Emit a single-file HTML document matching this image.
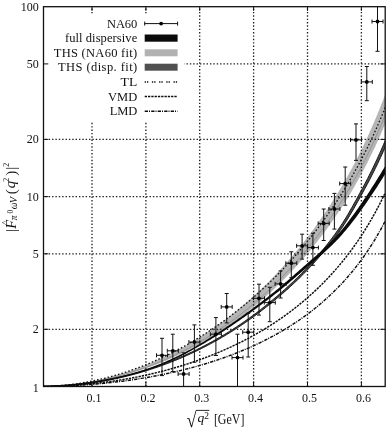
<!DOCTYPE html>
<html><head><meta charset="utf-8"><title>plot</title>
<style>
html,body{margin:0;padding:0;background:#fff;}
svg{display:block}
text{font-family:"Liberation Serif",serif;fill:#111;}
</style></head><body>
<svg width="386" height="428" viewBox="0 0 386 428">
<rect width="386" height="428" fill="#fff"/>
<defs><clipPath id="c"><rect x="43.5" y="6.7" width="341.7" height="379.8"/></clipPath></defs>

<g clip-path="url(#c)">
<path d="M42.42,386.47 L43.75,386.44 L45.09,386.41 L46.42,386.37 L47.75,386.33 L49.08,386.28 L50.41,386.22 L51.74,386.16 L53.08,386.09 L54.41,386.01 L55.74,385.93 L57.07,385.84 L58.40,385.75 L59.74,385.65 L61.07,385.54 L62.40,385.42 L63.73,385.30 L65.06,385.17 L66.39,385.04 L67.73,384.90 L69.06,384.75 L70.39,384.59 L71.72,384.43 L73.05,384.27 L74.39,384.09 L75.72,383.91 L77.05,383.73 L78.38,383.53 L79.71,383.33 L81.04,383.13 L82.38,382.91 L83.71,382.70 L85.04,382.47 L86.37,382.24 L87.70,382.00 L89.03,381.75 L90.37,381.50 L91.70,381.24 L93.03,380.98 L94.36,380.70 L95.69,380.42 L97.03,380.14 L98.36,379.85 L99.69,379.55 L101.02,379.24 L102.35,378.93 L103.68,378.61 L105.02,378.29 L106.35,377.96 L107.68,377.62 L109.01,377.27 L110.34,376.92 L111.68,376.56 L113.01,376.20 L114.34,375.83 L115.67,375.45 L117.00,375.06 L118.33,374.67 L119.67,374.27 L121.00,373.87 L122.33,373.45 L123.66,373.03 L124.99,372.61 L126.32,372.17 L127.66,371.74 L128.99,371.29 L130.32,370.84 L131.65,370.38 L132.98,369.91 L134.32,369.43 L135.65,368.95 L136.98,368.47 L138.31,367.97 L139.64,367.47 L140.97,366.96 L142.31,366.44 L143.64,365.92 L144.97,365.39 L146.30,364.86 L147.63,364.31 L148.97,363.76 L150.30,363.20 L151.63,362.64 L152.96,362.07 L154.29,361.49 L155.62,360.90 L156.96,360.31 L158.29,359.71 L159.62,359.10 L160.95,358.48 L162.28,357.86 L163.62,357.23 L164.95,356.59 L166.28,355.95 L167.61,355.30 L168.94,354.64 L170.27,353.97 L171.61,353.30 L172.94,352.62 L174.27,351.93 L175.60,351.23 L176.93,350.53 L178.26,349.82 L179.60,349.10 L180.93,348.37 L182.26,347.64 L183.59,346.90 L184.92,346.15 L186.26,345.39 L187.59,344.63 L188.92,343.85 L190.25,343.07 L191.58,342.29 L192.91,341.49 L194.25,340.68 L195.58,339.87 L196.91,339.05 L198.24,338.22 L199.57,337.39 L200.91,336.54 L202.24,335.69 L203.57,334.83 L204.90,333.96 L206.23,333.09 L207.56,332.20 L208.90,331.31 L210.23,330.40 L211.56,329.49 L212.89,328.58 L214.22,327.65 L215.55,326.71 L216.89,325.77 L218.22,324.81 L219.55,323.85 L220.88,322.88 L222.21,321.90 L223.55,320.91 L224.88,319.91 L226.21,318.91 L227.54,317.89 L228.87,316.87 L230.20,315.83 L231.54,314.79 L232.87,313.74 L234.20,312.68 L235.53,311.61 L236.86,310.53 L238.20,309.44 L239.53,308.34 L240.86,307.23 L242.19,306.11 L243.52,304.98 L244.85,303.84 L246.19,302.69 L247.52,301.53 L248.85,300.36 L250.18,299.18 L251.51,297.99 L252.84,296.79 L254.18,295.58 L255.51,294.36 L256.84,293.13 L258.17,291.89 L259.50,290.63 L260.84,289.37 L262.17,288.09 L263.50,286.81 L264.83,285.51 L266.16,284.20 L267.49,282.88 L268.83,281.55 L270.16,280.21 L271.49,278.85 L272.82,277.48 L274.15,276.10 L275.49,274.71 L276.82,273.31 L278.15,271.89 L279.48,270.46 L280.81,269.02 L282.14,267.57 L283.48,266.10 L284.81,264.62 L286.14,263.12 L287.47,261.62 L288.80,260.10 L290.13,258.56 L291.47,257.01 L292.80,255.45 L294.13,253.88 L295.46,252.28 L296.79,250.68 L298.13,249.06 L299.46,247.42 L300.79,245.77 L302.12,244.11 L303.45,242.42 L304.78,240.73 L306.12,239.01 L307.45,237.28 L308.78,235.54 L310.11,233.78 L311.44,232.00 L312.78,230.20 L314.11,228.38 L315.44,226.55 L316.77,224.70 L318.10,222.83 L319.43,220.95 L320.77,219.04 L322.10,217.11 L323.43,215.17 L324.76,213.20 L326.09,211.22 L327.42,209.21 L328.76,207.19 L330.09,205.14 L331.42,203.07 L332.75,200.98 L334.08,198.87 L335.42,196.73 L336.75,194.57 L338.08,192.39 L339.41,190.18 L340.74,187.95 L342.07,185.69 L343.41,183.40 L344.74,181.09 L346.07,178.76 L347.40,176.39 L348.73,174.00 L350.07,171.58 L351.40,169.13 L352.73,166.65 L354.06,164.14 L355.39,161.60 L356.72,159.02 L358.06,156.42 L359.39,153.77 L360.72,151.10 L362.05,148.39 L363.38,145.64 L364.71,142.86 L366.05,140.03 L367.38,137.17 L368.71,134.27 L370.04,131.32 L371.37,128.34 L372.71,125.30 L374.04,122.23 L375.37,119.10 L376.70,115.93 L378.03,112.71 L379.36,109.43 L380.70,106.11 L382.03,102.72 L383.36,99.28 L384.69,95.79 L386.02,92.23 L387.36,88.60 L387.36,118.43 L386.02,121.74 L384.69,124.99 L383.36,128.18 L382.03,131.31 L380.70,134.39 L379.36,137.42 L378.03,140.40 L376.70,143.33 L375.37,146.22 L374.04,149.06 L372.71,151.86 L371.37,154.61 L370.04,157.33 L368.71,160.01 L367.38,162.64 L366.05,165.24 L364.71,167.81 L363.38,170.34 L362.05,172.83 L360.72,175.29 L359.39,177.72 L358.06,180.12 L356.72,182.49 L355.39,184.82 L354.06,187.13 L352.73,189.41 L351.40,191.66 L350.07,193.88 L348.73,196.08 L347.40,198.25 L346.07,200.40 L344.74,202.52 L343.41,204.62 L342.07,206.69 L340.74,208.74 L339.41,210.77 L338.08,212.77 L336.75,214.76 L335.42,216.72 L334.08,218.66 L332.75,220.58 L331.42,222.48 L330.09,224.36 L328.76,226.22 L327.42,228.06 L326.09,229.88 L324.76,231.69 L323.43,233.47 L322.10,235.24 L320.77,236.99 L319.43,238.72 L318.10,240.44 L316.77,242.14 L315.44,243.82 L314.11,245.48 L312.78,247.13 L311.44,248.77 L310.11,250.39 L308.78,251.99 L307.45,253.58 L306.12,255.15 L304.78,256.71 L303.45,258.26 L302.12,259.79 L300.79,261.30 L299.46,262.80 L298.13,264.29 L296.79,265.77 L295.46,267.23 L294.13,268.67 L292.80,270.11 L291.47,271.53 L290.13,272.94 L288.80,274.33 L287.47,275.72 L286.14,277.09 L284.81,278.45 L283.48,279.79 L282.14,281.13 L280.81,282.45 L279.48,283.76 L278.15,285.06 L276.82,286.35 L275.49,287.62 L274.15,288.89 L272.82,290.14 L271.49,291.38 L270.16,292.62 L268.83,293.84 L267.49,295.05 L266.16,296.24 L264.83,297.43 L263.50,298.61 L262.17,299.78 L260.84,300.93 L259.50,302.08 L258.17,303.22 L256.84,304.34 L255.51,305.46 L254.18,306.57 L252.84,307.66 L251.51,308.75 L250.18,309.83 L248.85,310.89 L247.52,311.95 L246.19,313.00 L244.85,314.04 L243.52,315.07 L242.19,316.08 L240.86,317.10 L239.53,318.10 L238.20,319.09 L236.86,320.07 L235.53,321.05 L234.20,322.01 L232.87,322.97 L231.54,323.91 L230.20,324.85 L228.87,325.78 L227.54,326.70 L226.21,327.62 L224.88,328.52 L223.55,329.41 L222.21,330.30 L220.88,331.18 L219.55,332.05 L218.22,332.91 L216.89,333.77 L215.55,334.61 L214.22,335.45 L212.89,336.28 L211.56,337.10 L210.23,337.91 L208.90,338.71 L207.56,339.51 L206.23,340.30 L204.90,341.08 L203.57,341.85 L202.24,342.62 L200.91,343.38 L199.57,344.13 L198.24,344.87 L196.91,345.60 L195.58,346.33 L194.25,347.05 L192.91,347.76 L191.58,348.46 L190.25,349.16 L188.92,349.85 L187.59,350.53 L186.26,351.21 L184.92,351.87 L183.59,352.53 L182.26,353.18 L180.93,353.83 L179.60,354.47 L178.26,355.10 L176.93,355.72 L175.60,356.34 L174.27,356.95 L172.94,357.55 L171.61,358.15 L170.27,358.74 L168.94,359.32 L167.61,359.89 L166.28,360.46 L164.95,361.02 L163.62,361.58 L162.28,362.13 L160.95,362.67 L159.62,363.20 L158.29,363.73 L156.96,364.25 L155.62,364.76 L154.29,365.27 L152.96,365.77 L151.63,366.27 L150.30,366.76 L148.97,367.24 L147.63,367.71 L146.30,368.18 L144.97,368.64 L143.64,369.10 L142.31,369.55 L140.97,369.99 L139.64,370.43 L138.31,370.86 L136.98,371.28 L135.65,371.70 L134.32,372.11 L132.98,372.52 L131.65,372.92 L130.32,373.31 L128.99,373.70 L127.66,374.08 L126.32,374.45 L124.99,374.82 L123.66,375.18 L122.33,375.54 L121.00,375.89 L119.67,376.23 L118.33,376.57 L117.00,376.91 L115.67,377.23 L114.34,377.55 L113.01,377.87 L111.68,378.18 L110.34,378.48 L109.01,378.78 L107.68,379.07 L106.35,379.35 L105.02,379.63 L103.68,379.91 L102.35,380.18 L101.02,380.44 L99.69,380.69 L98.36,380.95 L97.03,381.19 L95.69,381.43 L94.36,381.66 L93.03,381.89 L91.70,382.11 L90.37,382.33 L89.03,382.54 L87.70,382.75 L86.37,382.95 L85.04,383.14 L83.71,383.33 L82.38,383.52 L81.04,383.69 L79.71,383.87 L78.38,384.03 L77.05,384.19 L75.72,384.35 L74.39,384.50 L73.05,384.64 L71.72,384.78 L70.39,384.92 L69.06,385.05 L67.73,385.17 L66.39,385.29 L65.06,385.40 L63.73,385.50 L62.40,385.60 L61.07,385.70 L59.74,385.79 L58.40,385.88 L57.07,385.95 L55.74,386.03 L54.41,386.10 L53.08,386.16 L51.74,386.22 L50.41,386.27 L49.08,386.32 L47.75,386.36 L46.42,386.40 L45.09,386.43 L43.75,386.45 L42.42,386.47Z" fill="#b5b5b5"/>
<path d="M102.76,379.72 L104.19,379.41 L105.62,379.10 L107.05,378.78 L108.48,378.45 L109.91,378.12 L111.34,377.77 L112.77,377.43 L114.20,377.07 L115.63,376.71 L117.06,376.34 L118.49,375.96 L119.92,375.58 L121.35,375.19 L122.78,374.79 L124.21,374.38 L125.64,373.97 L127.07,373.55 L128.50,373.12 L129.93,372.69 L131.36,372.25 L132.79,371.80 L134.22,371.34 L135.65,370.88 L137.08,370.40 L138.51,369.93 L139.94,369.44 L141.37,368.94 L142.80,368.44 L144.23,367.93 L145.66,367.42 L147.09,366.89 L148.52,366.36 L149.95,365.82 L151.38,365.27 L152.81,364.72 L154.24,364.16 L155.67,363.59 L157.10,363.01 L158.53,362.42 L159.96,361.83 L161.39,361.23 L162.82,360.62 L164.25,360.00 L165.68,359.37 L167.11,358.74 L168.54,358.10 L169.97,357.45 L171.40,356.79 L172.83,356.12 L174.26,355.45 L175.69,354.76 L177.12,354.07 L178.55,353.37 L179.98,352.67 L181.41,351.95 L182.84,351.22 L184.27,350.49 L185.70,349.75 L187.13,349.00 L188.56,348.24 L189.99,347.47 L191.43,346.70 L192.86,345.91 L194.29,345.12 L195.72,344.31 L197.15,343.50 L198.58,342.68 L200.01,341.85 L201.44,341.01 L202.87,340.17 L204.30,339.31 L205.73,338.44 L207.16,337.57 L208.59,336.68 L210.02,335.79 L211.45,334.89 L212.88,333.97 L214.31,333.05 L215.74,332.12 L217.17,331.18 L218.60,330.23 L220.03,329.27 L221.46,328.30 L222.89,327.32 L224.32,326.33 L225.75,325.33 L227.18,324.32 L228.61,323.30 L230.04,322.27 L231.47,321.23 L232.90,320.18 L234.33,319.11 L235.76,318.04 L237.19,316.96 L238.62,315.87 L240.05,314.76 L241.48,313.65 L242.91,312.52 L244.34,311.39 L245.77,310.24 L247.20,309.08 L248.63,307.91 L250.06,306.73 L251.49,305.54 L252.92,304.34 L254.35,303.12 L255.78,301.89 L257.21,300.66 L258.64,299.41 L260.07,298.14 L261.50,296.87 L262.93,295.58 L264.36,294.28 L265.79,292.97 L267.22,291.65 L268.65,290.31 L270.08,288.96 L271.51,287.60 L272.94,286.23 L274.37,284.84 L275.80,283.44 L277.23,282.02 L278.66,280.59 L280.09,279.15 L281.52,277.69 L282.95,276.22 L284.38,274.74 L285.81,273.24 L287.24,271.73 L288.68,270.20 L290.11,268.66 L291.54,267.10 L292.97,265.53 L294.40,263.94 L295.83,262.33 L297.26,260.71 L298.69,259.08 L300.12,257.43 L301.55,255.76 L302.98,254.07 L304.41,252.37 L305.84,250.65 L307.27,248.91 L308.70,247.16 L310.13,245.38 L311.56,243.59 L312.99,241.78 L314.42,239.96 L315.85,238.11 L317.28,236.24 L318.71,234.35 L320.14,232.45 L321.57,230.52 L323.00,228.57 L324.43,226.60 L325.86,224.61 L327.29,222.60 L328.72,220.56 L330.15,218.50 L331.58,216.42 L333.01,214.32 L334.44,212.19 L335.87,210.03 L337.30,207.86 L338.73,205.65 L340.16,203.42 L341.59,201.16 L343.02,198.87 L344.45,196.56 L345.88,194.22 L347.31,191.85 L348.74,189.44 L350.17,187.01 L351.60,184.55 L353.03,182.05 L354.46,179.52 L355.89,176.96 L357.32,174.36 L358.75,171.72 L360.18,169.05 L361.61,166.34 L363.04,163.59 L364.47,160.80 L365.90,157.97 L367.33,155.09 L368.76,152.17 L370.19,149.21 L371.62,146.20 L373.05,143.14 L374.48,140.03 L375.91,136.87 L377.34,133.66 L378.77,130.39 L380.20,127.06 L381.63,123.68 L383.06,120.23 L384.49,116.71 L385.93,113.13 L387.36,109.49" fill="none" stroke="#858585" stroke-width="0.7"/>
<path d="M42.43,386.87 L43.76,386.86 L45.09,386.83 L46.43,386.81 L47.76,386.77 L49.09,386.74 L50.43,386.70 L51.76,386.65 L53.09,386.60 L54.43,386.54 L55.76,386.48 L57.09,386.42 L58.43,386.35 L59.76,386.27 L61.09,386.19 L62.43,386.11 L63.76,386.02 L65.09,385.92 L66.43,385.82 L67.76,385.72 L69.09,385.61 L70.43,385.50 L71.76,385.38 L73.09,385.25 L74.43,385.13 L75.76,384.99 L77.09,384.86 L78.42,384.71 L79.76,384.56 L81.09,384.41 L82.42,384.25 L83.76,384.09 L85.09,383.93 L86.43,383.75 L87.76,383.58 L89.09,383.39 L90.43,383.21 L91.76,383.01 L93.09,382.82 L94.43,382.62 L95.76,382.41 L97.09,382.20 L98.43,381.98 L99.76,381.76 L101.09,381.53 L102.43,381.30 L103.76,381.06 L105.09,380.82 L106.43,380.57 L107.76,380.32 L109.09,380.06 L110.43,379.80 L111.76,379.53 L113.09,379.25 L114.43,378.98 L115.76,378.69 L117.10,378.40 L118.43,378.11 L119.76,377.81 L121.10,377.50 L122.43,377.19 L123.76,376.88 L125.10,376.56 L126.43,376.23 L127.77,375.90 L129.10,375.56 L130.43,375.22 L131.77,374.87 L133.10,374.52 L134.43,374.16 L135.77,373.80 L137.10,373.43 L138.44,373.05 L139.77,372.67 L141.10,372.28 L142.44,371.89 L143.77,371.49 L145.11,371.09 L146.44,370.68 L147.77,370.27 L149.11,369.85 L150.44,369.42 L151.78,368.99 L153.11,368.55 L154.44,368.11 L155.78,367.66 L157.11,367.20 L158.45,366.74 L159.78,366.27 L161.12,365.80 L162.45,365.32 L163.79,364.83 L165.12,364.34 L166.45,363.85 L167.79,363.34 L169.12,362.83 L170.46,362.32 L171.79,361.79 L173.13,361.27 L174.46,360.73 L175.80,360.19 L177.13,359.64 L178.47,359.09 L179.80,358.53 L181.13,357.96 L182.47,357.39 L183.80,356.81 L185.14,356.23 L186.47,355.63 L187.81,355.04 L189.14,354.43 L190.48,353.82 L191.81,353.20 L193.15,352.57 L194.48,351.94 L195.82,351.30 L197.15,350.66 L198.49,350.00 L199.82,349.34 L201.16,348.68 L202.49,348.00 L203.83,347.32 L205.16,346.64 L206.50,345.94 L207.84,345.24 L209.17,344.53 L210.51,343.82 L211.84,343.10 L213.18,342.37 L214.51,341.63 L215.85,340.89 L217.18,340.14 L218.52,339.38 L219.86,338.62 L221.19,337.84 L222.53,337.06 L223.86,336.28 L225.20,335.48 L226.53,334.68 L227.87,333.87 L229.21,333.05 L230.54,332.22 L231.88,331.39 L233.21,330.55 L234.55,329.70 L235.89,328.84 L237.22,327.97 L238.56,327.10 L239.89,326.22 L241.23,325.32 L242.57,324.42 L243.90,323.52 L245.24,322.60 L246.58,321.68 L247.91,320.74 L249.25,319.80 L250.59,318.85 L251.92,317.89 L253.26,316.92 L254.60,315.94 L255.93,314.95 L257.27,313.96 L258.61,312.95 L259.94,311.93 L261.28,310.91 L262.62,309.87 L263.96,308.83 L265.29,307.77 L266.63,306.71 L267.96,305.65 L269.30,304.58 L270.64,303.50 L271.97,302.41 L273.31,301.32 L274.65,300.22 L275.98,299.11 L277.32,297.99 L278.66,296.86 L280.00,295.73 L281.33,294.59 L282.67,293.43 L284.01,292.27 L285.35,291.09 L286.68,289.91 L288.02,288.71 L289.36,287.50 L290.70,286.28 L292.04,285.05 L293.37,283.81 L294.71,282.55 L296.05,281.28 L297.39,280.00 L298.73,278.70 L300.07,277.39 L301.41,276.06 L302.75,274.72 L304.08,273.36 L305.42,271.98 L306.76,270.59 L308.10,269.18 L309.44,267.76 L310.78,266.33 L312.12,264.88 L313.46,263.42 L314.80,261.95 L316.13,260.46 L317.47,258.95 L318.81,257.43 L320.15,255.89 L321.49,254.33 L322.83,252.76 L324.17,251.16 L325.51,249.55 L326.85,247.91 L328.19,246.26 L329.53,244.58 L330.87,242.88 L332.21,241.16 L333.55,239.41 L334.90,237.64 L336.24,235.84 L337.58,234.01 L338.92,232.16 L340.26,230.28 L341.60,228.36 L342.95,226.37 L344.29,224.32 L345.64,222.22 L346.98,220.07 L348.32,217.88 L349.66,215.64 L351.01,213.37 L352.35,211.07 L353.69,208.74 L355.03,206.38 L356.36,204.01 L357.70,201.62 L359.04,199.22 L360.38,196.82 L361.72,194.42 L363.06,192.01 L364.40,189.57 L365.74,187.09 L367.08,184.58 L368.42,182.04 L369.76,179.47 L371.10,176.86 L372.44,174.21 L373.78,171.54 L375.12,168.82 L376.47,166.07 L377.81,163.29 L379.15,160.46 L380.49,157.59 L381.83,154.67 L383.17,151.69 L384.51,148.67 L385.86,145.58 L387.20,142.44 L388.54,139.25 L386.17,138.26 L384.85,141.45 L383.53,144.59 L382.20,147.66 L380.88,150.68 L379.56,153.64 L378.24,156.55 L376.92,159.42 L375.60,162.24 L374.27,165.02 L372.95,167.76 L371.63,170.47 L370.30,173.14 L368.98,175.78 L367.66,178.39 L366.34,180.96 L365.01,183.49 L363.69,186.00 L362.37,188.46 L361.05,190.90 L359.72,193.31 L358.40,195.72 L357.07,198.13 L355.74,200.53 L354.42,202.92 L353.10,205.29 L351.77,207.65 L350.45,209.97 L349.12,212.27 L347.80,214.54 L346.48,216.77 L345.16,218.95 L343.84,221.09 L342.52,223.18 L341.20,225.21 L339.88,227.18 L338.56,229.09 L337.24,230.96 L335.92,232.81 L334.59,234.63 L333.27,236.42 L331.95,238.19 L330.63,239.94 L329.30,241.66 L327.98,243.36 L326.66,245.03 L325.33,246.68 L324.01,248.32 L322.69,249.93 L321.36,251.52 L320.04,253.10 L318.72,254.65 L317.39,256.19 L316.07,257.71 L314.74,259.22 L313.42,260.71 L312.09,262.18 L310.77,263.65 L309.44,265.09 L308.12,266.53 L306.79,267.95 L305.47,269.36 L304.15,270.75 L302.82,272.13 L301.50,273.48 L300.17,274.83 L298.85,276.16 L297.52,277.47 L296.20,278.77 L294.87,280.05 L293.55,281.33 L292.22,282.58 L290.90,283.83 L289.57,285.06 L288.25,286.28 L286.92,287.49 L285.60,288.69 L284.27,289.88 L282.94,291.06 L281.62,292.22 L280.29,293.38 L278.97,294.53 L277.64,295.67 L276.31,296.80 L274.99,297.92 L273.66,299.03 L272.33,300.13 L271.01,301.23 L269.68,302.32 L268.35,303.40 L267.02,304.48 L265.70,305.55 L264.37,306.61 L263.04,307.67 L261.72,308.72 L260.39,309.76 L259.06,310.79 L257.74,311.80 L256.41,312.81 L255.08,313.81 L253.76,314.80 L252.43,315.78 L251.10,316.76 L249.78,317.72 L248.45,318.67 L247.12,319.62 L245.79,320.56 L244.47,321.48 L243.14,322.40 L241.81,323.32 L240.49,324.22 L239.16,325.11 L237.83,326.00 L236.50,326.88 L235.18,327.74 L233.85,328.61 L232.52,329.46 L231.19,330.30 L229.87,331.14 L228.54,331.97 L227.21,332.79 L225.88,333.61 L224.56,334.41 L223.23,335.21 L221.90,336.00 L220.57,336.79 L219.25,337.56 L217.92,338.33 L216.59,339.09 L215.26,339.85 L213.93,340.59 L212.61,341.33 L211.28,342.06 L209.95,342.79 L208.62,343.51 L207.29,344.22 L205.96,344.92 L204.64,345.62 L203.31,346.31 L201.98,346.99 L200.65,347.67 L199.32,348.34 L197.99,349.00 L196.67,349.66 L195.34,350.31 L194.01,350.95 L192.68,351.58 L191.35,352.21 L190.02,352.84 L188.69,353.45 L187.37,354.06 L186.04,354.66 L184.71,355.26 L183.38,355.84 L182.05,356.43 L180.72,357.00 L179.39,357.57 L178.06,358.13 L176.74,358.69 L175.41,359.24 L174.08,359.78 L172.75,360.32 L171.42,360.85 L170.09,361.38 L168.76,361.90 L167.43,362.41 L166.10,362.91 L164.77,363.41 L163.44,363.91 L162.12,364.40 L160.79,364.88 L159.46,365.35 L158.13,365.82 L156.80,366.29 L155.47,366.75 L154.14,367.20 L152.81,367.64 L151.48,368.09 L150.15,368.52 L148.82,368.95 L147.49,369.37 L146.16,369.79 L144.83,370.20 L143.50,370.61 L142.17,371.01 L140.85,371.40 L139.52,371.79 L138.19,372.17 L136.86,372.55 L135.53,372.92 L134.20,373.29 L132.87,373.65 L131.54,374.00 L130.21,374.35 L128.88,374.70 L127.55,375.04 L126.22,375.37 L124.89,375.70 L123.56,376.02 L122.23,376.34 L120.90,376.65 L119.57,376.96 L118.24,377.26 L116.91,377.56 L115.58,377.85 L114.25,378.13 L112.92,378.41 L111.59,378.69 L110.26,378.96 L108.93,379.22 L107.60,379.48 L106.27,379.74 L104.94,379.98 L103.61,380.23 L102.28,380.47 L100.95,380.70 L99.62,380.93 L98.29,381.15 L96.96,381.37 L95.63,381.58 L94.30,381.79 L92.97,382.00 L91.64,382.19 L90.31,382.39 L88.98,382.58 L87.65,382.76 L86.32,382.94 L84.99,383.11 L83.66,383.28 L82.33,383.44 L81.00,383.60 L79.67,383.75 L78.34,383.90 L77.01,384.05 L75.68,384.18 L74.35,384.32 L73.02,384.45 L71.68,384.57 L70.35,384.69 L69.02,384.80 L67.69,384.91 L66.36,385.02 L65.03,385.12 L63.70,385.21 L62.37,385.30 L61.04,385.39 L59.71,385.47 L58.38,385.54 L57.05,385.61 L55.72,385.68 L54.39,385.74 L53.06,385.80 L51.73,385.85 L50.40,385.90 L49.07,385.94 L47.74,385.97 L46.41,386.01 L45.08,386.03 L43.75,386.06 L42.42,386.07Z" fill="#4a4a4a" stroke="#161616" stroke-width="1.0" stroke-linejoin="round"/>
<path d="M42.43,387.12 L43.76,387.11 L45.10,387.08 L46.43,387.05 L47.77,387.02 L49.10,386.98 L50.44,386.94 L51.77,386.89 L53.10,386.84 L54.44,386.78 L55.77,386.72 L57.11,386.65 L58.44,386.58 L59.77,386.50 L61.11,386.42 L62.44,386.34 L63.78,386.24 L65.11,386.15 L66.45,386.04 L67.78,385.94 L69.11,385.83 L70.45,385.71 L71.78,385.59 L73.12,385.46 L74.45,385.33 L75.79,385.19 L77.12,385.05 L78.45,384.91 L79.79,384.75 L81.12,384.60 L82.46,384.44 L83.79,384.27 L85.12,384.10 L86.46,383.92 L87.79,383.74 L89.13,383.56 L90.46,383.37 L91.80,383.17 L93.13,382.97 L94.46,382.77 L95.80,382.56 L97.13,382.34 L98.47,382.12 L99.80,381.90 L101.14,381.67 L102.47,381.43 L103.81,381.19 L105.14,380.94 L106.47,380.69 L107.81,380.44 L109.14,380.18 L110.48,379.91 L111.81,379.64 L113.15,379.36 L114.48,379.08 L115.82,378.79 L117.15,378.50 L118.49,378.20 L119.82,377.90 L121.16,377.59 L122.49,377.27 L123.83,376.95 L125.16,376.63 L126.50,376.29 L127.83,375.95 L129.17,375.61 L130.50,375.25 L131.84,374.90 L133.17,374.53 L134.51,374.16 L135.84,373.78 L137.18,373.39 L138.52,373.00 L139.85,372.60 L141.19,372.19 L142.52,371.78 L143.86,371.35 L145.20,370.92 L146.53,370.48 L147.87,370.04 L149.21,369.58 L150.54,369.12 L151.88,368.64 L153.21,368.16 L154.55,367.67 L155.89,367.17 L157.23,366.66 L158.56,366.15 L159.90,365.62 L161.24,365.09 L162.57,364.54 L163.91,363.99 L165.25,363.43 L166.58,362.86 L167.92,362.28 L169.26,361.69 L170.59,361.09 L171.93,360.48 L173.27,359.87 L174.61,359.25 L175.94,358.61 L177.28,357.97 L178.62,357.32 L179.95,356.66 L181.29,355.99 L182.63,355.32 L183.97,354.63 L185.30,353.94 L186.64,353.24 L187.98,352.53 L189.31,351.81 L190.65,351.09 L191.99,350.35 L193.32,349.61 L194.66,348.87 L196.00,348.11 L197.33,347.35 L198.67,346.58 L200.01,345.81 L201.34,345.03 L202.68,344.24 L204.02,343.45 L205.35,342.65 L206.69,341.85 L208.03,341.04 L209.36,340.22 L210.70,339.40 L212.04,338.57 L213.37,337.74 L214.71,336.90 L216.05,336.06 L217.38,335.21 L218.72,334.35 L220.06,333.49 L221.40,332.62 L222.73,331.75 L224.07,330.88 L225.41,330.00 L226.74,329.11 L228.08,328.22 L229.42,327.33 L230.75,326.43 L232.09,325.52 L233.43,324.61 L234.76,323.70 L236.10,322.78 L237.44,321.86 L238.78,320.93 L240.11,320.00 L241.45,319.06 L242.79,318.12 L244.12,317.18 L245.46,316.23 L246.80,315.28 L248.13,314.32 L249.47,313.36 L250.81,312.40 L252.15,311.43 L253.48,310.46 L254.82,309.49 L256.16,308.51 L257.50,307.53 L258.83,306.54 L260.17,305.55 L261.51,304.56 L262.85,303.56 L264.19,302.55 L265.52,301.54 L266.86,300.53 L268.20,299.51 L269.54,298.48 L270.88,297.45 L272.22,296.42 L273.56,295.37 L274.90,294.32 L276.24,293.26 L277.58,292.20 L278.92,291.13 L280.26,290.04 L281.60,288.96 L282.94,287.86 L284.28,286.75 L285.62,285.64 L286.96,284.52 L288.30,283.39 L289.64,282.26 L290.98,281.12 L292.32,279.98 L293.66,278.83 L295.00,277.68 L296.33,276.53 L297.67,275.37 L299.01,274.21 L300.35,273.05 L301.69,271.89 L303.02,270.74 L304.36,269.58 L305.70,268.42 L307.03,267.27 L308.37,266.12 L309.71,264.98 L311.04,263.83 L312.38,262.69 L313.72,261.55 L315.06,260.41 L316.40,259.27 L317.74,258.12 L319.08,256.96 L320.42,255.80 L321.76,254.63 L323.11,253.45 L324.45,252.25 L325.80,251.04 L327.15,249.82 L328.49,248.57 L329.84,247.31 L331.19,246.02 L332.54,244.70 L333.89,243.36 L335.24,241.99 L336.60,240.59 L337.95,239.16 L339.30,237.69 L340.65,236.20 L342.00,234.68 L343.35,233.12 L344.70,231.54 L346.05,229.93 L347.40,228.30 L348.75,226.63 L350.10,224.94 L351.45,223.23 L352.80,221.49 L354.14,219.73 L355.49,217.94 L356.84,216.13 L358.19,214.31 L359.53,212.46 L360.88,210.59 L362.23,208.70 L363.57,206.80 L364.92,204.88 L366.27,202.95 L367.61,200.99 L368.96,199.03 L370.30,197.04 L371.65,195.04 L373.00,193.02 L374.34,190.99 L375.69,188.94 L377.04,186.88 L378.38,184.80 L379.73,182.70 L381.08,180.59 L382.42,178.46 L383.77,176.32 L385.12,174.17 L386.46,172.00 L387.81,169.81 L389.15,167.62 L385.56,165.44 L384.24,167.64 L382.92,169.83 L381.60,172.01 L380.29,174.16 L378.97,176.31 L377.65,178.44 L376.34,180.55 L375.02,182.65 L373.70,184.73 L372.38,186.80 L371.07,188.85 L369.75,190.89 L368.43,192.91 L367.12,194.91 L365.80,196.90 L364.48,198.87 L363.16,200.82 L361.85,202.76 L360.53,204.68 L359.21,206.59 L357.90,208.47 L356.58,210.34 L355.26,212.19 L353.95,214.01 L352.63,215.82 L351.31,217.60 L350.00,219.36 L348.68,221.10 L347.37,222.80 L346.05,224.49 L344.74,226.14 L343.43,227.77 L342.11,229.38 L340.80,230.95 L339.49,232.49 L338.17,234.01 L336.86,235.49 L335.55,236.94 L334.24,238.37 L332.92,239.76 L331.61,241.12 L330.30,242.45 L328.99,243.76 L327.67,245.04 L326.36,246.30 L325.04,247.55 L323.72,248.78 L322.41,249.99 L321.09,251.19 L319.77,252.38 L318.45,253.55 L317.12,254.72 L315.80,255.89 L314.48,257.05 L313.16,258.21 L311.83,259.36 L310.50,260.52 L309.18,261.67 L307.85,262.83 L306.52,263.99 L305.20,265.16 L303.87,266.33 L302.54,267.50 L301.22,268.67 L299.89,269.84 L298.57,271.02 L297.24,272.19 L295.91,273.36 L294.59,274.53 L293.27,275.69 L291.94,276.85 L290.62,278.01 L289.29,279.16 L287.97,280.31 L286.64,281.45 L285.32,282.58 L284.00,283.71 L282.67,284.83 L281.35,285.94 L280.03,287.05 L278.70,288.14 L277.38,289.23 L276.06,290.31 L274.73,291.38 L273.41,292.45 L272.09,293.51 L270.76,294.56 L269.44,295.60 L268.11,296.64 L266.79,297.67 L265.46,298.70 L264.14,299.72 L262.81,300.74 L261.49,301.75 L260.16,302.76 L258.84,303.76 L257.51,304.76 L256.18,305.76 L254.86,306.75 L253.53,307.74 L252.21,308.72 L250.88,309.70 L249.55,310.67 L248.23,311.65 L246.90,312.61 L245.57,313.58 L244.25,314.54 L242.92,315.49 L241.59,316.44 L240.27,317.39 L238.94,318.34 L237.62,319.27 L236.29,320.21 L234.96,321.14 L233.64,322.06 L232.31,322.98 L230.98,323.90 L229.66,324.81 L228.33,325.72 L227.00,326.62 L225.68,327.52 L224.35,328.41 L223.02,329.30 L221.70,330.18 L220.37,331.05 L219.04,331.93 L217.71,332.79 L216.39,333.65 L215.06,334.51 L213.73,335.36 L212.41,336.20 L211.08,337.04 L209.75,337.87 L208.43,338.70 L207.10,339.52 L205.77,340.34 L204.45,341.15 L203.12,341.95 L201.79,342.75 L200.47,343.54 L199.14,344.32 L197.81,345.10 L196.48,345.87 L195.16,346.64 L193.83,347.40 L192.50,348.15 L191.18,348.89 L189.85,349.63 L188.52,350.36 L187.20,351.08 L185.87,351.79 L184.54,352.49 L183.22,353.19 L181.89,353.88 L180.56,354.56 L179.24,355.23 L177.91,355.89 L176.59,356.54 L175.26,357.19 L173.93,357.82 L172.61,358.45 L171.28,359.07 L169.95,359.67 L168.63,360.27 L167.30,360.86 L165.97,361.45 L164.65,362.02 L163.32,362.58 L161.99,363.14 L160.67,363.68 L159.34,364.22 L158.01,364.75 L156.69,365.27 L155.36,365.78 L154.03,366.28 L152.71,366.77 L151.38,367.25 L150.05,367.73 L148.73,368.20 L147.40,368.65 L146.07,369.10 L144.74,369.54 L143.42,369.98 L142.09,370.40 L140.76,370.82 L139.43,371.23 L138.11,371.63 L136.78,372.03 L135.45,372.42 L134.12,372.80 L132.80,373.17 L131.47,373.54 L130.14,373.90 L128.81,374.25 L127.48,374.60 L126.15,374.94 L124.83,375.28 L123.50,375.61 L122.17,375.93 L120.84,376.25 L119.51,376.56 L118.18,376.86 L116.85,377.16 L115.52,377.46 L114.20,377.75 L112.87,378.03 L111.54,378.31 L110.21,378.58 L108.88,378.85 L107.55,379.11 L106.22,379.37 L104.89,379.62 L103.56,379.87 L102.23,380.11 L100.91,380.35 L99.58,380.58 L98.25,380.80 L96.92,381.02 L95.59,381.24 L94.26,381.45 L92.93,381.66 L91.60,381.86 L90.27,382.06 L88.94,382.25 L87.61,382.43 L86.28,382.62 L84.95,382.79 L83.62,382.96 L82.30,383.13 L80.97,383.29 L79.64,383.45 L78.31,383.60 L76.98,383.75 L75.65,383.89 L74.32,384.03 L72.99,384.16 L71.66,384.29 L70.33,384.41 L69.00,384.52 L67.67,384.64 L66.34,384.74 L65.01,384.85 L63.68,384.94 L62.36,385.03 L61.03,385.12 L59.70,385.20 L58.37,385.28 L57.04,385.35 L55.71,385.42 L54.38,385.48 L53.05,385.54 L51.72,385.59 L50.39,385.64 L49.06,385.68 L47.73,385.72 L46.40,385.75 L45.07,385.78 L43.74,385.81 L42.41,385.82Z" fill="#0a0a0a"/>
<path d="M43.50,386.45 L45.22,386.41 L46.93,386.35 L48.65,386.29 L50.37,386.22 L52.09,386.13 L53.80,386.04 L55.52,385.93 L57.24,385.81 L58.95,385.69 L60.67,385.55 L62.39,385.40 L64.11,385.23 L65.82,385.06 L67.54,384.88 L69.26,384.68 L70.97,384.48 L72.69,384.26 L74.41,384.03 L76.12,383.79 L77.84,383.54 L79.56,383.28 L81.28,383.01 L82.99,382.73 L84.71,382.43 L86.43,382.13 L88.14,381.81 L89.86,381.48 L91.58,381.14 L93.30,380.79 L95.01,380.43 L96.73,380.06 L98.45,379.68 L100.16,379.28 L101.88,378.88 L103.60,378.46 L105.32,378.04 L107.03,377.60 L108.75,377.15 L110.47,376.69 L112.18,376.22 L113.90,375.73 L115.62,375.24 L117.33,374.73 L119.05,374.22 L120.77,373.69 L122.49,373.15 L124.20,372.60 L125.92,372.04 L127.64,371.47 L129.35,370.89 L131.07,370.29 L132.79,369.69 L134.51,369.07 L136.22,368.44 L137.94,367.80 L139.66,367.15 L141.37,366.49 L143.09,365.82 L144.81,365.13 L146.53,364.44 L148.24,363.73 L149.96,363.01 L151.68,362.28 L153.39,361.54 L155.11,360.79 L156.83,360.02 L158.54,359.25 L160.26,358.46 L161.98,357.66 L163.70,356.85 L165.41,356.03 L167.13,355.20 L168.85,354.35 L170.56,353.50 L172.28,352.63 L174.00,351.75 L175.72,350.86 L177.43,349.95 L179.15,349.04 L180.87,348.11 L182.58,347.17 L184.30,346.22 L186.02,345.26 L187.74,344.28 L189.45,343.30 L191.17,342.30 L192.89,341.29 L194.60,340.26 L196.32,339.23 L198.04,338.18 L199.75,337.12 L201.47,336.05 L203.19,334.96 L204.91,333.87 L206.62,332.76 L208.34,331.63 L210.06,330.50 L211.77,329.35 L213.49,328.19 L215.21,327.01 L216.93,325.83 L218.64,324.63 L220.36,323.41 L222.08,322.19 L223.79,320.94 L225.51,319.69 L227.23,318.42 L228.95,317.14 L230.66,315.85 L232.38,314.54 L234.10,313.22 L235.81,311.88 L237.53,310.53 L239.25,309.16 L240.96,307.78 L242.68,306.39 L244.40,304.98 L246.12,303.56 L247.83,302.12 L249.55,300.66 L251.27,299.19 L252.98,297.71 L254.70,296.21 L256.42,294.69 L258.14,293.16 L259.85,291.61 L261.57,290.05 L263.29,288.47 L265.00,286.87 L266.72,285.25 L268.44,283.62 L270.16,281.97 L271.87,280.31 L273.59,278.62 L275.31,276.92 L277.02,275.20 L278.74,273.46 L280.46,271.70 L282.17,269.93 L283.89,268.13 L285.61,266.32 L287.33,264.48 L289.04,262.62 L290.76,260.75 L292.48,258.85 L294.19,256.93 L295.91,254.99 L297.63,253.03 L299.35,251.05 L301.06,249.04 L302.78,247.01 L304.50,244.95 L306.21,242.88 L307.93,240.78 L309.65,238.65 L311.37,236.50 L313.08,234.32 L314.80,232.11 L316.52,229.88 L318.23,227.62 L319.95,225.33 L321.67,223.02 L323.38,220.67 L325.10,218.29 L326.82,215.89 L328.54,213.45 L330.25,210.98 L331.97,208.47 L333.69,205.93 L335.40,203.36 L337.12,200.75 L338.84,198.11 L340.56,195.42 L342.27,192.70 L343.99,189.94 L345.71,187.13 L347.42,184.29 L349.14,181.40 L350.86,178.47 L352.58,175.49 L354.29,172.46 L356.01,169.38 L357.73,166.25 L359.44,163.07 L361.16,159.84 L362.88,156.55 L364.59,153.20 L366.31,149.79 L368.03,146.32 L369.75,142.78 L371.46,139.17 L373.18,135.50 L374.90,131.75 L376.61,127.93 L378.33,124.02 L380.05,120.04 L381.77,115.96 L383.48,111.80 L385.20,107.54" fill="none" stroke="#111" stroke-width="1.3" stroke-dasharray="1.6 2.0"/>
<path d="M43.50,386.47 L45.22,386.45 L46.93,386.43 L48.65,386.39 L50.37,386.36 L52.09,386.31 L53.80,386.27 L55.52,386.21 L57.24,386.15 L58.95,386.09 L60.67,386.02 L62.39,385.94 L64.11,385.86 L65.82,385.77 L67.54,385.68 L69.26,385.58 L70.97,385.47 L72.69,385.36 L74.41,385.25 L76.12,385.13 L77.84,385.00 L79.56,384.87 L81.28,384.73 L82.99,384.58 L84.71,384.43 L86.43,384.28 L88.14,384.11 L89.86,383.95 L91.58,383.77 L93.30,383.59 L95.01,383.41 L96.73,383.22 L98.45,383.02 L100.16,382.82 L101.88,382.61 L103.60,382.39 L105.32,382.17 L107.03,381.94 L108.75,381.71 L110.47,381.47 L112.18,381.22 L113.90,380.97 L115.62,380.72 L117.33,380.45 L119.05,380.18 L120.77,379.90 L122.49,379.62 L124.20,379.33 L125.92,379.04 L127.64,378.74 L129.35,378.43 L131.07,378.11 L132.79,377.79 L134.51,377.47 L136.22,377.13 L137.94,376.79 L139.66,376.44 L141.37,376.09 L143.09,375.73 L144.81,375.36 L146.53,374.99 L148.24,374.61 L149.96,374.22 L151.68,373.82 L153.39,373.42 L155.11,373.01 L156.83,372.60 L158.54,372.17 L160.26,371.74 L161.98,371.30 L163.70,370.86 L165.41,370.41 L167.13,369.95 L168.85,369.48 L170.56,369.01 L172.28,368.52 L174.00,368.03 L175.72,367.54 L177.43,367.03 L179.15,366.52 L180.87,366.00 L182.58,365.47 L184.30,364.93 L186.02,364.38 L187.74,363.83 L189.45,363.27 L191.17,362.70 L192.89,362.12 L194.60,361.53 L196.32,360.94 L198.04,360.33 L199.75,359.72 L201.47,359.10 L203.19,358.46 L204.91,357.82 L206.62,357.18 L208.34,356.52 L210.06,355.85 L211.77,355.17 L213.49,354.48 L215.21,353.79 L216.93,353.08 L218.64,352.36 L220.36,351.64 L222.08,350.90 L223.79,350.15 L225.51,349.40 L227.23,348.63 L228.95,347.85 L230.66,347.06 L232.38,346.26 L234.10,345.45 L235.81,344.63 L237.53,343.80 L239.25,342.95 L240.96,342.09 L242.68,341.23 L244.40,340.34 L246.12,339.45 L247.83,338.55 L249.55,337.63 L251.27,336.70 L252.98,335.76 L254.70,334.80 L256.42,333.83 L258.14,332.85 L259.85,331.85 L261.57,330.84 L263.29,329.82 L265.00,328.78 L266.72,327.72 L268.44,326.66 L270.16,325.57 L271.87,324.48 L273.59,323.36 L275.31,322.23 L277.02,321.09 L278.74,319.92 L280.46,318.74 L282.17,317.55 L283.89,316.34 L285.61,315.10 L287.33,313.86 L289.04,312.59 L290.76,311.30 L292.48,310.00 L294.19,308.68 L295.91,307.33 L297.63,305.97 L299.35,304.58 L301.06,303.18 L302.78,301.75 L304.50,300.30 L306.21,298.83 L307.93,297.34 L309.65,295.82 L311.37,294.28 L313.08,292.72 L314.80,291.13 L316.52,289.51 L318.23,287.87 L319.95,286.20 L321.67,284.51 L323.38,282.78 L325.10,281.03 L326.82,279.25 L328.54,277.44 L330.25,275.59 L331.97,273.72 L333.69,271.81 L335.40,269.87 L337.12,267.89 L338.84,265.88 L340.56,263.83 L342.27,261.75 L343.99,259.62 L345.71,257.46 L347.42,255.25 L349.14,253.00 L350.86,250.71 L352.58,248.37 L354.29,245.99 L356.01,243.56 L357.73,241.07 L359.44,238.54 L361.16,235.95 L362.88,233.31 L364.59,230.61 L366.31,227.85 L368.03,225.03 L369.75,222.15 L371.46,219.19 L373.18,216.17 L374.90,213.08 L376.61,209.91 L378.33,206.66 L380.05,203.33 L381.77,199.92 L383.48,196.41 L385.20,192.81" fill="none" stroke="#0c0c0c" stroke-width="1.45" stroke-dasharray="2.3 1"/>
<path d="M43.50,386.48 L45.22,386.46 L46.93,386.44 L48.65,386.42 L50.37,386.39 L52.09,386.36 L53.80,386.32 L55.52,386.28 L57.24,386.23 L58.95,386.18 L60.67,386.13 L62.39,386.07 L64.11,386.00 L65.82,385.94 L67.54,385.86 L69.26,385.79 L70.97,385.71 L72.69,385.62 L74.41,385.53 L76.12,385.44 L77.84,385.34 L79.56,385.24 L81.28,385.13 L82.99,385.02 L84.71,384.90 L86.43,384.78 L88.14,384.65 L89.86,384.52 L91.58,384.39 L93.30,384.25 L95.01,384.11 L96.73,383.96 L98.45,383.80 L100.16,383.65 L101.88,383.48 L103.60,383.32 L105.32,383.15 L107.03,382.97 L108.75,382.79 L110.47,382.60 L112.18,382.41 L113.90,382.22 L115.62,382.01 L117.33,381.81 L119.05,381.60 L120.77,381.38 L122.49,381.16 L124.20,380.94 L125.92,380.71 L127.64,380.47 L129.35,380.23 L131.07,379.99 L132.79,379.74 L134.51,379.48 L136.22,379.22 L137.94,378.95 L139.66,378.68 L141.37,378.40 L143.09,378.12 L144.81,377.83 L146.53,377.54 L148.24,377.24 L149.96,376.93 L151.68,376.62 L153.39,376.31 L155.11,375.99 L156.83,375.66 L158.54,375.33 L160.26,374.99 L161.98,374.64 L163.70,374.29 L165.41,373.94 L167.13,373.57 L168.85,373.20 L170.56,372.83 L172.28,372.45 L174.00,372.06 L175.72,371.67 L177.43,371.27 L179.15,370.86 L180.87,370.44 L182.58,370.02 L184.30,369.60 L186.02,369.16 L187.74,368.72 L189.45,368.28 L191.17,367.82 L192.89,367.36 L194.60,366.89 L196.32,366.42 L198.04,365.94 L199.75,365.44 L201.47,364.95 L203.19,364.44 L204.91,363.93 L206.62,363.41 L208.34,362.88 L210.06,362.34 L211.77,361.80 L213.49,361.25 L215.21,360.69 L216.93,360.12 L218.64,359.54 L220.36,358.95 L222.08,358.36 L223.79,357.75 L225.51,357.14 L227.23,356.52 L228.95,355.89 L230.66,355.25 L232.38,354.60 L234.10,353.94 L235.81,353.27 L237.53,352.59 L239.25,351.90 L240.96,351.20 L242.68,350.50 L244.40,349.78 L246.12,349.05 L247.83,348.30 L249.55,347.55 L251.27,346.79 L252.98,346.01 L254.70,345.23 L256.42,344.43 L258.14,343.62 L259.85,342.80 L261.57,341.96 L263.29,341.12 L265.00,340.26 L266.72,339.38 L268.44,338.50 L270.16,337.60 L271.87,336.69 L273.59,335.76 L275.31,334.82 L277.02,333.86 L278.74,332.89 L280.46,331.91 L282.17,330.91 L283.89,329.89 L285.61,328.86 L287.33,327.81 L289.04,326.74 L290.76,325.66 L292.48,324.56 L294.19,323.44 L295.91,322.31 L297.63,321.15 L299.35,319.98 L301.06,318.79 L302.78,317.58 L304.50,316.35 L306.21,315.09 L307.93,313.82 L309.65,312.52 L311.37,311.21 L313.08,309.87 L314.80,308.50 L316.52,307.11 L318.23,305.70 L319.95,304.27 L321.67,302.80 L323.38,301.32 L325.10,299.80 L326.82,298.26 L328.54,296.69 L330.25,295.08 L331.97,293.45 L333.69,291.79 L335.40,290.10 L337.12,288.37 L338.84,286.61 L340.56,284.81 L342.27,282.98 L343.99,281.12 L345.71,279.21 L347.42,277.26 L349.14,275.28 L350.86,273.25 L352.58,271.18 L354.29,269.06 L356.01,266.90 L357.73,264.69 L359.44,262.43 L361.16,260.12 L362.88,257.76 L364.59,255.33 L366.31,252.86 L368.03,250.32 L369.75,247.72 L371.46,245.06 L373.18,242.32 L374.90,239.52 L376.61,236.64 L378.33,233.69 L380.05,230.66 L381.77,227.54 L383.48,224.34 L385.20,221.04" fill="none" stroke="#0c0c0c" stroke-width="1.45" stroke-dasharray="3.3 1 1 1.2"/>
</g>
<g stroke="#1c1c1c" stroke-width="1.3" stroke-dasharray="1.4 1.96" stroke-dashoffset="1.5" fill="none">
<path d="M43.5,329.3H385.2"/>
<path d="M43.5,253.8H385.2"/>
<path d="M43.5,196.6H385.2"/>
<path d="M43.5,139.4H385.2"/>
<path d="M43.5,63.9H385.2"/>
<path d="M92.0,6.7V386.5"/>
<path d="M145.9,6.7V386.5"/>
<path d="M199.7,6.7V386.5"/>
<path d="M253.6,6.7V386.5"/>
<path d="M307.5,6.7V386.5"/>
<path d="M361.4,6.7V386.5"/>
</g>
<rect x="43.5" y="14" width="140.9" height="107.6" fill="#fff"/>
<g clip-path="url(#c)">
<g stroke="#111" stroke-width="1" fill="none">
<path d="M156.5,355.3H167.5M156.5,353.3v4M167.5,353.3v4M162.0,338.3V375.6M160.0,338.3h4M160.0,375.6h4"/>
<path d="M167.3,350.8H178.3M167.3,348.8v4M178.3,348.8v4M172.8,334.2V371.5M170.8,334.2h4M170.8,371.5h4"/>
<path d="M178.1,374.0H189.1M178.1,372.0v4M189.1,372.0v4M183.6,352.8V400.0M181.6,352.8h4M181.6,400.0h4"/>
<path d="M188.9,342.1H199.9M188.9,340.1v4M199.9,340.1v4M194.4,324.9V362.2M192.4,324.9h4M192.4,362.2h4"/>
<path d="M210.4,334.2H221.4M210.4,332.2v4M221.4,332.2v4M215.9,317.6V355.5M213.9,317.6h4M213.9,355.5h4"/>
<path d="M221.2,306.9H232.2M221.2,304.9v4M232.2,304.9v4M226.7,293.5V322.9M224.7,293.5h4M224.7,322.9h4"/>
<path d="M232.0,357.6H243.0M232.0,355.6v4M243.0,355.6v4M237.5,334.2V400.0M235.5,334.2h4M235.5,400.0h4"/>
<path d="M242.7,332.2H253.7M242.7,330.2v4M253.7,330.2v4M248.2,313.3V357.0M246.2,313.3h4M246.2,357.0h4"/>
<path d="M253.5,298.3H264.5M253.5,296.3v4M264.5,296.3v4M259.0,284.2V315.1M257.0,284.2h4M257.0,315.1h4"/>
<path d="M264.3,302.6H275.3M264.3,300.6v4M275.3,300.6v4M269.8,287.3V321.7M267.8,287.3h4M267.8,321.7h4"/>
<path d="M275.1,283.9H286.1M275.1,281.9v4M286.1,281.9v4M280.6,270.9V298.0M278.6,270.9h4M278.6,298.0h4"/>
<path d="M285.8,263.2H296.8M285.8,261.2v4M296.8,261.2v4M291.3,251.8V277.7M289.3,251.8h4M289.3,277.7h4"/>
<path d="M296.6,245.8H307.6M296.6,243.8v4M307.6,243.8v4M302.1,234.2V259.1M300.1,234.2h4M300.1,259.1h4"/>
<path d="M307.4,247.6H318.4M307.4,245.6v4M318.4,245.6v4M312.9,233.2V265.3M310.9,233.2h4M310.9,265.3h4"/>
<path d="M318.2,223.4H329.2M318.2,221.4v4M329.2,221.4v4M323.7,209.0V240.5M321.7,209.0h4M321.7,240.5h4"/>
<path d="M328.9,209.0H339.9M328.9,207.0v4M339.9,207.0v4M334.4,193.4V229.1M332.4,193.4h4M332.4,229.1h4"/>
<path d="M339.7,183.6H350.7M339.7,181.6v4M350.7,181.6v4M345.2,167.0V205.2M343.2,167.0h4M343.2,205.2h4"/>
<path d="M350.5,139.9H361.5M350.5,137.9v4M361.5,137.9v4M356.0,123.9V160.4M354.0,123.9h4M354.0,160.4h4"/>
<path d="M361.3,81.9H372.3M361.3,79.9v4M372.3,79.9v4M366.8,66.5V100.7M364.8,66.5h4M364.8,100.7h4"/>
<path d="M372.0,21.5H383.0M372.0,19.5v4M383.0,19.5v4M377.5,-5.0V51.3M375.5,-5.0h4M375.5,51.3h4"/>
</g>
<circle cx="162.0" cy="355.3" r="1.9" fill="#000"/>
<circle cx="172.8" cy="350.8" r="1.9" fill="#000"/>
<circle cx="183.6" cy="374.0" r="1.9" fill="#000"/>
<circle cx="194.4" cy="342.1" r="1.9" fill="#000"/>
<circle cx="215.9" cy="334.2" r="1.9" fill="#000"/>
<circle cx="226.7" cy="306.9" r="1.9" fill="#000"/>
<circle cx="237.5" cy="357.6" r="1.9" fill="#000"/>
<circle cx="248.2" cy="332.2" r="1.9" fill="#000"/>
<circle cx="259.0" cy="298.3" r="1.9" fill="#000"/>
<circle cx="269.8" cy="302.6" r="1.9" fill="#000"/>
<circle cx="280.6" cy="283.9" r="1.9" fill="#000"/>
<circle cx="291.3" cy="263.2" r="1.9" fill="#000"/>
<circle cx="302.1" cy="245.8" r="1.9" fill="#000"/>
<circle cx="312.9" cy="247.6" r="1.9" fill="#000"/>
<circle cx="323.7" cy="223.4" r="1.9" fill="#000"/>
<circle cx="334.4" cy="209.0" r="1.9" fill="#000"/>
<circle cx="345.2" cy="183.6" r="1.9" fill="#000"/>
<circle cx="356.0" cy="139.9" r="1.9" fill="#000"/>
<circle cx="366.8" cy="81.9" r="1.9" fill="#000"/>
<circle cx="377.5" cy="21.5" r="1.9" fill="#000"/>
</g>
<rect x="43.5" y="6.7" width="341.7" height="379.8" fill="none" stroke="#111" stroke-width="1.3"/>
<g stroke="#111" stroke-width="1" fill="none">
<path d="M43.5,329.3h4.8M385.2,329.3h-4.8"/>
<path d="M43.5,253.8h4.8M385.2,253.8h-4.8"/>
<path d="M43.5,196.6h4.8M385.2,196.6h-4.8"/>
<path d="M43.5,139.4h4.8M385.2,139.4h-4.8"/>
<path d="M43.5,63.9h4.8M385.2,63.9h-4.8"/>
<path d="M92.0,386.5v-4.8M92.0,6.7v4.2"/>
<path d="M145.9,386.5v-4.8M145.9,6.7v4.2"/>
<path d="M199.7,386.5v-4.8M199.7,6.7v4.2"/>
<path d="M253.6,386.5v-4.8M253.6,6.7v4.2"/>
<path d="M307.5,386.5v-4.8M307.5,6.7v4.2"/>
<path d="M361.4,386.5v-4.8M361.4,6.7v4.2"/>
</g>
<text x="38.8" y="391.5" font-size="12" text-anchor="end">1</text>
<text x="38.8" y="333.3" font-size="12" text-anchor="end">2</text>
<text x="38.8" y="257.8" font-size="12" text-anchor="end">5</text>
<text x="38.8" y="200.6" font-size="12" text-anchor="end">10</text>
<text x="38.8" y="143.4" font-size="12" text-anchor="end">20</text>
<text x="38.8" y="67.9" font-size="12" text-anchor="end">50</text>
<text x="38.8" y="10.7" font-size="12" text-anchor="end">100</text>
<text x="94.0" y="401.9" font-size="12" text-anchor="middle">0.1</text>
<text x="147.9" y="401.9" font-size="12" text-anchor="middle">0.2</text>
<text x="201.7" y="401.9" font-size="12" text-anchor="middle">0.3</text>
<text x="255.6" y="401.9" font-size="12" text-anchor="middle">0.4</text>
<text x="309.5" y="401.9" font-size="12" text-anchor="middle">0.5</text>
<text x="363.4" y="401.9" font-size="12" text-anchor="middle">0.6</text>
<text transform="translate(186.6,426.7) scale(1,1.15)" font-size="18">√</text>
<path d="M195.9,410.4H209.3" stroke="#111" stroke-width="0.9" fill="none"/>
<text x="197.6" y="421.6" font-size="13.5" font-style="italic">q</text>
<text x="204.3" y="419.3" font-size="9.5">2</text>
<text x="213.9" y="424.3" font-size="14" textLength="30.5" lengthAdjust="spacingAndGlyphs">[GeV]</text>
<text transform="translate(15.7,231.9) rotate(-90)" font-size="15" >|</text>
<text transform="translate(15.7,228.8) rotate(-90)" font-size="14.5" font-style="italic">F</text>
<text transform="translate(7.6,224.7) rotate(-90)" font-size="9" >^</text>
<text transform="translate(16.7,220.2) rotate(-90)" font-size="9.5" font-style="italic">π</text>
<text transform="translate(13.4,213.6) rotate(-90)" font-size="7.5" >0</text>
<text transform="translate(16.8,209.3) rotate(-90)" font-size="9.5" font-style="italic">ω</text>
<text transform="translate(17.3,203.3) rotate(-90)" font-size="10.5" font-style="italic">V</text>
<text transform="translate(15.7,194.2) rotate(-90)" font-size="15" >(</text>
<text transform="translate(15.1,188.3) rotate(-90)" font-size="14.5" font-style="italic">q</text>
<text transform="translate(8.9,181.8) rotate(-90)" font-size="8" >2</text>
<text transform="translate(15.7,175.7) rotate(-90)" font-size="15" >)</text>
<text transform="translate(15.7,169.7) rotate(-90)" font-size="15" >|</text>
<text transform="translate(8.9,166.7) rotate(-90)" font-size="8" >2</text>
<text x="107.0" y="27.7" font-size="12.5" textLength="30.2" lengthAdjust="spacing">NA60</text>
<text x="64.9" y="42.2" font-size="12.5" textLength="72.3" lengthAdjust="spacing">full dispersive</text>
<text x="53.8" y="56.9" font-size="12.5" textLength="83.4" lengthAdjust="spacing">THS (NA60 fit)</text>
<text x="58.0" y="71.3" font-size="12.5" textLength="79.2" lengthAdjust="spacing">THS (disp. fit)</text>
<text x="120.6" y="86.1" font-size="12.5" textLength="16.6" lengthAdjust="spacingAndGlyphs">TL</text>
<text x="107.9" y="100.5" font-size="12.5" textLength="29.3" lengthAdjust="spacing">VMD</text>
<text x="109.8" y="115.4" font-size="12.5" textLength="27.4" lengthAdjust="spacing">LMD</text>
<path d="M144.7,23.6H177.6M144.7,21.6v4M177.6,21.6v4" stroke="#111" fill="none"/><circle cx="161.14999999999998" cy="23.6" r="1.9" fill="#000"/>
<rect x="144.7" y="34.5" width="32.900000000000006" height="7.2" fill="#0a0a0a"/>
<rect x="144.7" y="49.3" width="32.900000000000006" height="7" fill="#b2b2b2"/>
<rect x="144.7" y="63.7" width="32.900000000000006" height="7" fill="#505050"/>
<path d="M144.7,82H177.6" fill="none" stroke="#0c0c0c" stroke-width="1.4" stroke-dasharray="1.3 1 1.3 3.6"/>
<path d="M144.7,96.4H177.6" fill="none" stroke="#0c0c0c" stroke-width="1.45" stroke-dasharray="2.3 1"/>
<path d="M144.7,111.3H177.6" fill="none" stroke="#0c0c0c" stroke-width="1.45" stroke-dasharray="3.3 1 1 1.2"/>
</svg></body></html>
